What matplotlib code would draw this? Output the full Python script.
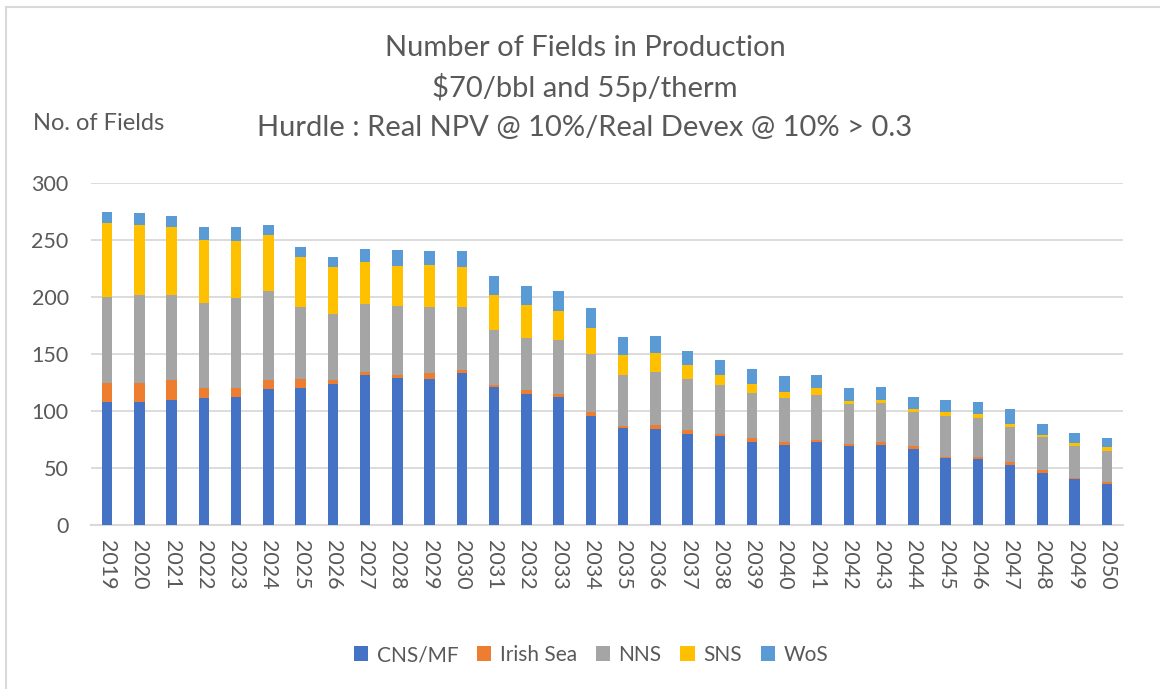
import numpy as np
import matplotlib.pyplot as plt
from matplotlib.lines import Line2D

plt.rcParams['font.family'] = ['Lato', 'DejaVu Sans']

years = [str(y) for y in range(2019, 2051)]

# Number of fields by area (stacked)
cns_mf = [108, 108, 110, 111, 112, 119, 120, 124, 132, 129, 128, 133, 121, 115, 112, 96,
          85, 84, 80, 78, 73, 70, 73, 69, 70, 67, 59, 58, 53, 46, 40, 36]
irish_sea = [17, 17, 17, 9, 8, 8, 8, 3, 2, 3, 5, 3, 2, 3, 3, 3,
             2, 4, 3, 2, 3, 3, 2, 2, 3, 2, 1, 2, 2, 2, 1, 2]
nns = [75, 77, 75, 75, 79, 78, 63, 58, 60, 60, 58, 55, 48, 46, 47, 51,
       45, 46, 45, 43, 40, 38, 39, 35, 34, 30, 36, 34, 31, 29, 28, 27]
sns = [65, 61, 59, 55, 50, 49, 44, 41, 37, 35, 37, 35, 31, 29, 26, 23,
       17, 17, 12, 9, 8, 6, 6, 3, 3, 3, 3, 3, 3, 2, 3, 3]
wos = [10, 11, 10, 11, 12, 9, 9, 9, 11, 14, 12, 14, 16, 17, 17, 17,
       16, 15, 13, 13, 13, 14, 12, 11, 11, 10, 11, 11, 13, 10, 9, 8]

series = [
    ('CNS/MF', cns_mf, '#4472C4'),
    ('Irish Sea', irish_sea, '#ED7D31'),
    ('NNS', nns, '#A5A5A5'),
    ('SNS', sns, '#FFC000'),
    ('WoS', wos, '#5B9BD5'),
]

text_col = '#595959'
grid_col = '#D9D9D9'

fig = plt.figure(figsize=(11.6, 6.89), dpi=100)
ax = fig.add_axes([0.0784, 0.238, 0.8897, 0.4964])

x = np.arange(len(years))
bottom = np.zeros(len(years))
for name, vals, col in series:
    ax.bar(x, vals, width=0.33, bottom=bottom, color=col, label=name, zorder=3)
    bottom += np.array(vals)

ax.set_xlim(-0.5, len(years) - 0.5)
ax.set_ylim(0, 300)
ax.set_yticks(range(0, 301, 50))
ax.set_xticks(x)
ax.set_xticklabels(years, rotation=-90)
ax.tick_params(axis='both', length=0, colors=text_col, labelsize=15.5)
ax.tick_params(axis='y', pad=16)
ax.tick_params(axis='x', pad=11)
ax.yaxis.grid(True, color=grid_col, linewidth=1.3, zorder=0)
for s in ['top', 'right', 'left']:
    ax.spines[s].set_visible(False)
ax.spines['bottom'].set_color(grid_col)
ax.spines['bottom'].set_linewidth(1.5)

# Titles
fig.text(585 / 1160, 1 - 48 / 689, 'Number of Fields in Production', ha='center', va='center',
         fontsize=21, color=text_col)
fig.text(585 / 1160, 1 - 88 / 689, '$70/bbl and 55p/therm', ha='center', va='center',
         fontsize=21, color=text_col)
fig.text(585 / 1160, 1 - 128 / 689, 'Hurdle : Real NPV @ 10%/Real Devex @ 10% > 0.3',
         ha='center', va='center', fontsize=21, color=text_col)
fig.text(33 / 1160, 1 - 123 / 689, 'No. of Fields', ha='left', va='center',
         fontsize=17, color=text_col)

fig.legend(loc='center', bbox_to_anchor=(591 / 1160, 34 / 689), ncol=5, frameon=False,
           fontsize=15, handlelength=0.7, handleheight=0.7, handletextpad=0.4,
           columnspacing=0.9, labelcolor=text_col)

# chart border (left and top)
fig.add_artist(Line2D([6 / 1160, 6 / 1160], [0, 1 - 7 / 689], transform=fig.transFigure,
                      color=grid_col, linewidth=1.5))
fig.add_artist(Line2D([6 / 1160, 1], [1 - 7 / 689, 1 - 7 / 689], transform=fig.transFigure,
                      color=grid_col, linewidth=1.5))

fig.savefig('out.png', dpi=100)
